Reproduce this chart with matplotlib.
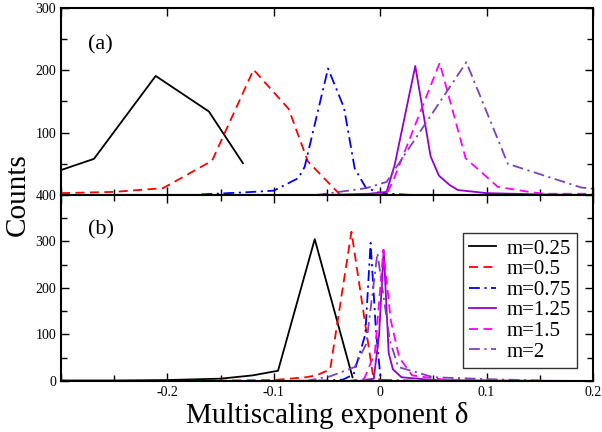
# Multiscaling exponent histograms, two panels

# Libraries
import matplotlib
matplotlib.use("Agg")
import matplotlib.pyplot as plt


############################
# Data
############################

labels = ["m=0.25", "m=0.5", "m=0.75", "m=1.25", "m=1.5", "m=2"]

# panel (a)
a_x_025 = [-0.3, -0.269, -0.211, -0.161, -0.129]
a_y_025 = [40, 58, 191, 134, 51]

a_x_05 = [-0.3, -0.25, -0.204, -0.158, -0.119, -0.086, -0.068, -0.038]
a_y_05 = [3, 5, 11, 55, 201, 138, 54, 1]

a_x_075 = [-0.168, -0.13, -0.1, -0.077, -0.071, -0.049, -0.034, -0.024, -0.0136, 0.0, 0.03]
a_y_075 = [1, 4, 7, 27, 45, 203, 140, 43, 12, 3, 0]

a_x_125 = [-0.05, -0.01, 0.006, 0.0136, 0.033, 0.0474, 0.0552, 0.0653, 0.073, 0.1, 0.15, 0.2]
a_y_125 = [0, 2, 5, 48, 207, 62, 31, 16, 8, 3, 1, 0]

a_x_15 = [-0.02, 0.0, 0.007, 0.012, 0.0559, 0.0803, 0.1106, 0.14, 0.154, 0.2]
a_y_15 = [0, 2, 5, 22, 212, 59, 13, 5, 2, 2]

a_x_2 = [-0.06, -0.013, 0.006, 0.081, 0.12, 0.189, 0.2]
a_y_2 = [0, 11, 21, 213, 50, 12, 10]

# panel (b)
b_x_025 = [-0.3, -0.25, -0.2, -0.15, -0.12, -0.096, -0.0615, -0.026]
b_y_025 = [1, 1, 2, 5, 12, 22, 305, 8]

b_x_05 = [-0.207, -0.15, -0.1, -0.07, -0.06, -0.047, -0.027, -0.007, 0.001]
b_y_05 = [0, 1, 2, 8, 12, 25, 321, 15, 0]

b_x_075 = [-0.1, -0.05, -0.035, -0.025, -0.014, -0.009, -0.004, 0.0005, 0.05]
b_y_075 = [0, 1, 3, 14, 100, 297, 110, 2, 0]

b_x_125 = [-0.02, -0.006, -0.001, 0.0033, 0.008, 0.012, 0.02, 0.05, 0.1, 0.2]
b_y_125 = [0, 5, 100, 282, 60, 25, 8, 2, 1, 0]

b_x_15 = [-0.03, -0.015, -0.005, 0.003, 0.01, 0.018, 0.03, 0.06, 0.1]
b_y_15 = [0, 5, 60, 282, 130, 50, 12, 3, 1]

b_x_2 = [-0.07, -0.047, -0.024, -0.013, -0.0026, 0.009, 0.017, 0.05, 0.1, 0.15]
b_y_2 = [0, 10, 30, 80, 275, 88, 30, 8, 4, 1]

colors = ["black", "#ff0000", "#0000ff", "#9400d3", "#ff00ff", "#7f3fbf"]
styles = ["-", (0, (5, 3)), (0, (6, 2.5, 1.2, 2.5)), "-", (0, (5, 3)), (0, (6, 2.5, 1.2, 2.5))]


############################
# Functions
############################


def style_axes(ax, top_minor=True):
    for s in ax.spines.values():
        s.set_linewidth(1.5)
    ax.set_xlim(-0.3, 0.2)
    ax.set_xticks([-0.3, -0.2, -0.1, 0.0, 0.1, 0.2])
    ax.set_xticks([-0.25, -0.15, -0.05, 0.05, 0.15], minor=True)
    ax.tick_params(which="both", direction="in", top=True, right=True,
                   labelsize=10, width=1.0)
    ax.tick_params(which="major", length=6)
    ax.tick_params(which="minor", length=4)
    if not top_minor:
        ax.tick_params(which="minor", top=False)


def draw_panel(ax, xs, ys):
    for x, y, c, ls, lab in zip(xs, ys, colors, styles, labels):
        ax.plot(x, y, color=c, linestyle=ls, linewidth=1.3, label=lab)


############################
# Program
############################

plt.rcParams["font.family"] = ["Liberation Serif", "DejaVu Serif"]

fig = plt.figure(figsize=(6.02, 4.32), dpi=100)
ax_a = fig.add_axes([0.1013, 0.5486, 0.8837, 0.4329])
ax_b = fig.add_axes([0.1013, 0.1181, 0.8837, 0.4305])

draw_panel(ax_a, [a_x_025, a_x_05, a_x_075, a_x_125, a_x_15, a_x_2],
           [a_y_025, a_y_05, a_y_075, a_y_125, a_y_15, a_y_2])
draw_panel(ax_b, [b_x_025, b_x_05, b_x_075, b_x_125, b_x_15, b_x_2],
           [b_y_025, b_y_05, b_y_075, b_y_125, b_y_15, b_y_2])

style_axes(ax_a, top_minor=False)
ax_a.set_ylim(0, 300)
ax_a.set_yticks([0, 100, 200, 300])
ax_a.set_yticklabels(["", "100", "200", "300"])
ax_a.set_yticks([50, 150, 250], minor=True)
ax_a.set_xticklabels([])
ax_a.text(0.05, 0.78, "(a)", transform=ax_a.transAxes, fontsize=16)

style_axes(ax_b)
ax_b.set_ylim(0, 400)
ax_b.set_yticks([0, 100, 200, 300, 400])
ax_b.set_yticks([50, 150, 250, 350], minor=True)
ax_b.set_xticklabels(["", "-0.2", "-0.1", "0", "0.1", "0.2"])
ax_b.text(0.05, 0.79, "(b)", transform=ax_b.transAxes, fontsize=16)

ax_b.set_xlabel("Multiscaling exponent δ", fontsize=21, labelpad=2)
fig.text(0.03, 0.55, "Counts", rotation=90, fontsize=21, ha="center", va="center")

leg = ax_b.legend(loc="upper right", bbox_to_anchor=(0.9705, 0.797),
                  borderaxespad=0, fontsize=15, frameon=True, fancybox=False,
                  handlelength=1.3, labelspacing=0.05, borderpad=0.3,
                  handletextpad=0.5)
leg.get_frame().set_edgecolor("black")
leg.get_frame().set_linewidth(1.0)

fig.savefig("out.png", dpi=100)
